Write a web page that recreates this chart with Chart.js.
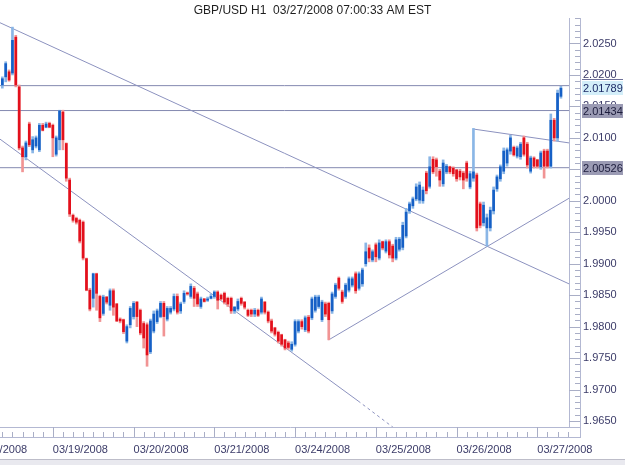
<!DOCTYPE html>
<html><head><meta charset="utf-8">
<script src="https://cdn.jsdelivr.net/npm/chart.js@4.4.1/dist/chart.umd.min.js"></script>
<style>html,body{margin:0;padding:0;background:#fff}</style>
</head><body>
<canvas id="c" width="625" height="465"></canvas>
<script>
// ---- data (hour index counted from 03/18/2008 00:00, trading hours only) ----
const firstHour = 9;
const open = [
2.0184,2.0197,2.0205,2.0203,2.0260,2.0181,2.0084,2.0070,2.0122,2.0081,
2.0087,2.0081,2.0120,2.0117,2.0123,2.0120,2.0074,2.0097,2.0141,2.0091,
2.0033,1.9977,1.9972,1.9969,1.9966,1.9908,1.9858,1.9845,1.9884,1.9848,
1.9821,1.9847,1.9834,1.9857,1.9836,1.9812,1.9811,1.9777,1.9803,1.9816,
1.9839,1.9826,1.9805,1.9803,1.9760,1.9793,1.9808,1.9816,1.9837,1.9812,
1.9823,1.9828,1.9848,1.9825,1.9840,1.9853,1.9848,1.9861,1.9852,1.9832,
1.9844,1.9842,1.9845,1.9848,1.9855,1.9850,1.9853,1.9845,1.9845,1.9825,
1.9828,1.9845,1.9839,1.9826,1.9826,1.9820,1.9826,1.9823,1.9839,1.9823,
1.9809,1.9798,1.9791,1.9787,1.9779,1.9774,1.9764,1.9772,1.9793,1.9808,
1.9795,1.9815,1.9814,1.9826,1.9832,1.9811,1.9836,1.9837,1.9825,1.9848,
1.9877,1.9855,1.9848,1.9858,1.9866,1.9884,1.9861,1.9868,1.9900,1.9925,
1.9906,1.9930,1.9909,1.9935,1.9920,1.9935,1.9928,1.9909,1.9923,1.9926,
1.9944,1.9984,1.9992,2.0003,2.0001,2.0000,2.0044,2.0023,2.0066,2.0065,
2.0047,2.0027,2.0046,2.0054,2.0052,2.0049,2.0047,2.0044,2.0060,2.0022,
2.0036,2.0041,1.9995,1.9965,1.9957,1.9957,1.9984,2.0019,2.0035,2.0047,
2.0060,2.0079,2.0085,2.0071,2.0070,2.0100,2.0090,2.0047,2.0068,2.0065,
2.0054,2.0079,2.0079,2.0055,2.0128,2.0100,2.0166];
const high = [
2.0197,2.0221,2.0208,2.0276,2.0263,2.0184,2.0087,2.0095,2.0125,2.0102,
2.0103,2.0123,2.0123,2.0125,2.0125,2.0122,2.0103,2.0144,2.0144,2.0092,
2.0036,1.9979,1.9974,1.9971,1.9968,1.9909,1.9861,1.9885,1.9885,1.9850,
1.9850,1.9848,1.9860,1.9860,1.9837,1.9814,1.9812,1.9803,1.9832,1.9840,
1.9840,1.9828,1.9808,1.9806,1.9812,1.9825,1.9828,1.9840,1.9840,1.9832,
1.9832,1.9852,1.9852,1.9839,1.9857,1.9855,1.9868,1.9864,1.9855,1.9847,
1.9845,1.9847,1.9852,1.9857,1.9857,1.9852,1.9855,1.9847,1.9847,1.9832,
1.9844,1.9847,1.9840,1.9828,1.9828,1.9829,1.9828,1.9847,1.9840,1.9825,
1.9812,1.9799,1.9793,1.9788,1.9780,1.9777,1.9776,1.9811,1.9811,1.9811,
1.9817,1.9818,1.9847,1.9850,1.9850,1.9842,1.9839,1.9839,1.9855,1.9869,
1.9879,1.9858,1.9869,1.9879,1.9879,1.9887,1.9887,1.9893,1.9933,1.9930,
1.9922,1.9933,1.9938,1.9936,1.9938,1.9938,1.9931,1.9942,1.9942,1.9966,
1.9988,1.9998,2.0006,2.0027,2.0030,2.0022,2.0047,2.0070,2.0070,2.0068,
2.0050,2.0065,2.0058,2.0055,2.0054,2.0050,2.0050,2.0047,2.0063,2.0047,
2.0115,2.0044,1.9998,1.9998,1.9979,1.9990,2.0022,2.0041,2.0057,2.0084,
2.0084,2.0104,2.0087,2.0087,2.0093,2.0103,2.0093,2.0071,2.0070,2.0066,
2.0079,2.0082,2.0082,2.0138,2.0131,2.0176,2.0182];
const low = [
2.0179,2.0189,2.0190,2.0200,2.0181,2.0081,2.0046,2.0065,2.0086,2.0076,
2.0084,2.0078,2.0111,2.0116,2.0116,2.0070,2.0071,2.0081,2.0081,2.0031,
1.9975,1.9966,1.9963,1.9933,1.9906,1.9857,1.9825,1.9831,1.9826,1.9808,
1.9818,1.9836,1.9826,1.9818,1.9808,1.9806,1.9789,1.9774,1.9798,1.9812,
1.9800,1.9787,1.9766,1.9737,1.9757,1.9790,1.9805,1.9814,1.9785,1.9809,
1.9820,1.9825,1.9820,1.9821,1.9837,1.9850,1.9845,1.9832,1.9832,1.9829,
1.9839,1.9840,1.9844,1.9845,1.9828,1.9842,1.9836,1.9832,1.9821,1.9821,
1.9825,1.9834,1.9828,1.9816,1.9816,1.9816,1.9816,1.9820,1.9820,1.9806,
1.9790,1.9785,1.9774,1.9769,1.9763,1.9764,1.9761,1.9769,1.9790,1.9796,
1.9792,1.9790,1.9811,1.9823,1.9829,1.9808,1.9816,1.9779,1.9821,1.9845,
1.9858,1.9837,1.9845,1.9855,1.9863,1.9853,1.9858,1.9864,1.9896,1.9903,
1.9903,1.9903,1.9906,1.9922,1.9917,1.9909,1.9903,1.9906,1.9920,1.9922,
1.9941,1.9980,1.9988,2.0000,1.9996,1.9996,2.0011,2.0020,2.0043,2.0039,
2.0023,2.0023,2.0043,2.0043,2.0039,2.0031,2.0033,2.0019,2.0031,2.0019,
2.0031,1.9952,1.9957,1.9960,1.9928,1.9952,1.9979,2.0015,2.0031,2.0043,
2.0055,2.0074,2.0071,2.0068,2.0066,2.0071,2.0052,2.0044,2.0052,2.0052,
2.0050,2.0036,2.0052,2.0052,2.0095,2.0095,2.0163];
const close = [
2.0194,2.0218,2.0192,2.0255,2.0184,2.0084,2.0070,2.0092,2.0089,2.0097,
2.0100,2.0120,2.0112,2.0122,2.0117,2.0100,2.0100,2.0143,2.0097,2.0036,
1.9979,1.9969,1.9966,1.9936,1.9909,1.9858,1.9828,1.9884,1.9853,1.9814,
1.9847,1.9839,1.9857,1.9831,1.9809,1.9809,1.9792,1.9800,1.9829,1.9837,
1.9816,1.9790,1.9782,1.9755,1.9809,1.9820,1.9825,1.9837,1.9816,1.9829,
1.9829,1.9848,1.9823,1.9836,1.9853,1.9852,1.9864,1.9845,1.9836,1.9844,
1.9840,1.9844,1.9848,1.9855,1.9842,1.9844,1.9839,1.9836,1.9825,1.9831,
1.9840,1.9837,1.9831,1.9818,1.9820,1.9826,1.9818,1.9844,1.9823,1.9809,
1.9793,1.9788,1.9777,1.9772,1.9766,1.9767,1.9772,1.9808,1.9808,1.9800,
1.9814,1.9793,1.9844,1.9847,1.9847,1.9839,1.9820,1.9811,1.9852,1.9866,
1.9861,1.9840,1.9866,1.9876,1.9876,1.9857,1.9884,1.9890,1.9919,1.9909,
1.9919,1.9911,1.9933,1.9925,1.9935,1.9914,1.9909,1.9938,1.9939,1.9961,
1.9982,1.9995,2.0003,2.0022,2.0025,2.0017,2.0016,2.0054,2.0046,2.0054,
2.0033,2.0060,2.0055,2.0046,2.0043,2.0035,2.0038,2.0033,2.0036,2.0043,
2.0046,1.9957,1.9961,1.9993,1.9973,1.9985,2.0017,2.0038,2.0054,2.0079,
2.0081,2.0100,2.0073,2.0084,2.0090,2.0074,2.0057,2.0068,2.0055,2.0055,
2.0076,2.0055,2.0055,2.0128,2.0100,2.0171,2.01789];

const dayTickHours = [0, 24, 48, 72, 96, 120, 144, 168];
const dayLabels = ['03/18/2008','03/19/2008','03/20/2008','03/21/2008','03/24/2008','03/25/2008','03/26/2008','03/27/2008'];
const priceTicks = [1.9650,1.9700,1.9750,1.9800,1.9850,1.9900,1.9950,2.0000,2.0050,2.0100,2.0150,2.0200,2.0250];
const hourRange = [8.3, 177.4];
const priceRange = [1.96405, 2.02905];

// horizontal level lines and marked prices
const levelLines = [2.0183, 2.01434, 2.00526];
const markedLevels = [2.01434, 2.00526];
const currentPrice = 2.01789;

// trend lines: [hourA, priceA, hourB, priceB]
const trendTop   = [8.3, 2.0283, 177.4, 1.9868];
const trendLow   = [8.3, 2.0098, 114.7, 1.9682];
const trendLowDash = [114.7, 1.9682, 125.1, 1.9640];
const trendUp    = [106, 1.9779, 177.4, 2.0004];
const trendShort = [149, 2.0114, 177.4, 2.0092];

// ---- build ----
const UP = '#1660c6', UP_L = '#8ab6e6', DN = '#e3101c', DN_L = '#f19494';
const wickData = [], bodyData = [], wickCol = [], bodyCol = [];
open.forEach((o, k) => {
  const c = close[k], up = c >= o, h = firstHour + k;
  wickData.push({x: h, y: [low[k], high[k]]});
  bodyData.push({x: h, y: [Math.min(o, c), Math.max(o, c)]});
  wickCol.push(up ? UP_L : DN_L);
  bodyCol.push(up ? UP : DN);
});
const seg = (t) => [{x: t[0], y: t[1]}, {x: t[2], y: t[3]}];
const lineDs = (pts, color, dash) => ({
  type: 'line', data: pts, borderColor: color, borderWidth: 1, borderDash: dash || [],
  pointRadius: 0, tension: 0, fill: false, order: 5
});
const LINE = '#8c92bf', LEVEL = '#8489b0';
const datasets = [
  {type: 'bar', data: bodyData, backgroundColor: bodyCol, barThickness: 2, grouped: false, minBarLength: 1, order: 0},
  {type: 'bar', data: wickData, backgroundColor: wickCol, barThickness: 2, grouped: false, order: 1},
  lineDs(seg(trendTop), LINE),
  lineDs(seg(trendLow), LINE),
  lineDs(seg(trendLowDash), LINE, [3, 3]),
  lineDs(seg(trendUp), LINE),
  lineDs(seg(trendShort), LINE),
  ...levelLines.map(v => lineDs([{x: hourRange[0], y: v}, {x: hourRange[1], y: v}], LEVEL))
];

const FONT = 'Liberation Sans, Arial, sans-serif';
const TXT = '#3b3b68';

const decor = {
  id: 'decor',
  afterDraw(chart) {
    const {ctx, chartArea: ca, scales: {x, y}} = chart;
    const L = ca.left, R = ca.right, T = ca.top, B = ca.bottom;
    const ln = (x1, y1, x2, y2) => { ctx.beginPath(); ctx.moveTo(x1, y1); ctx.lineTo(x2, y2); ctx.stroke(); };
    ctx.save();
    ctx.lineWidth = 1;
    // bottom scroll band
    ctx.fillStyle = '#e9e9ef'; ctx.fillRect(0, 460, 625, 5);
    ctx.strokeStyle = '#bdbdc9'; ln(0, 459.5, 625, 459.5);
    // axis frame
    ctx.strokeStyle = '#b3b8d2';
    ln(L, B + 0.5, R + 12, B + 0.5);
    ln(L, B + 10.5, R + 12, B + 10.5);
    ln(R + 0.5, T, R + 0.5, B + 1);
    ln(R + 11.5, T, R + 11.5, B + 11);
    // time ticks: every 3 hours, long at day boundaries
    ctx.strokeStyle = '#a9aec6';
    for (let hr = 9; hr <= 177; hr += 3) {
      const px = Math.round(x.getPixelForValue(hr)) + 0.5;
      if (hr % 24 === 0) ln(px, B, px, B + 10); else ln(px, B + 5, px, B + 10);
    }
    // price ticks: every 0.001, long every 0.005
    for (let m = 1965; m <= 2029; m++) {
      const py = Math.round(y.getPixelForValue(m / 1000)) + 0.5;
      if (m % 5 === 0) ln(R, py, R + 11, py); else ln(R + 6, py, R + 11, py);
    }
    // price boxes
    ctx.font = '11px ' + FONT;
    ctx.textBaseline = 'middle';
    ctx.textAlign = 'left';
    const box = (v, bg, fg, label, topLine) => {
      const py = Math.round(y.getPixelForValue(v));
      ctx.fillStyle = bg; ctx.fillRect(R + 13, py - 7, 41, 14);
      if (topLine) { ctx.strokeStyle = topLine; ln(R + 13, py - 8.5, R + 54, py - 8.5); }
      ctx.fillStyle = fg; ctx.fillText(label, R + 14, py + 0.5);
    };
    markedLevels.forEach(v => box(v, '#9b9bb4', '#1c1c3c', v.toFixed(5)));
    box(currentPrice, '#d3eef9', '#1d2b66', currentPrice.toFixed(5), '#6d6f98');
    ctx.restore();
  }
};

new Chart(document.getElementById('c'), {
  data: {datasets},
  options: {
    responsive: false, animation: false, devicePixelRatio: 1,
    layout: {padding: 0},
    plugins: {
      legend: {display: false}, tooltip: {enabled: false},
      title: {display: true, text: 'GBP/USD H1  03/27/2008 07:00:33 AM EST', color: '#1e1e1e',
              font: {family: FONT, size: 12, weight: 'normal'}, padding: {top: 3, bottom: 0.6}}
    },
    scales: {
      x: {
        type: 'linear', position: 'bottom', min: hourRange[0], max: hourRange[1], offset: false,
        grid: {display: false, drawTicks: false}, border: {display: false},
        afterBuildTicks: s => { s.ticks = dayTickHours.map(v => ({value: v})); },
        afterFit: s => { s.height = 38; s.paddingLeft = 0; s.paddingRight = 0; },
        ticks: {autoSkip: false, maxRotation: 0, minRotation: 0, align: 'start', padding: 16,
                color: TXT, font: {family: FONT, size: 11},
                callback: (v, i) => dayLabels[i]}
      },
      y: {
        type: 'linear', position: 'right', min: priceRange[0], max: priceRange[1],
        grid: {display: false, drawTicks: false}, border: {display: false},
        afterBuildTicks: s => { s.ticks = priceTicks.map(v => ({value: v})); },
        afterFit: s => { s.width = 56; s.paddingTop = 0; s.paddingBottom = 0; },
        ticks: {padding: 14, color: TXT, font: {family: FONT, size: 11},
                callback: v => Number(v).toFixed(4)}
      }
    }
  },
  plugins: [decor]
});
</script>
</body></html>
